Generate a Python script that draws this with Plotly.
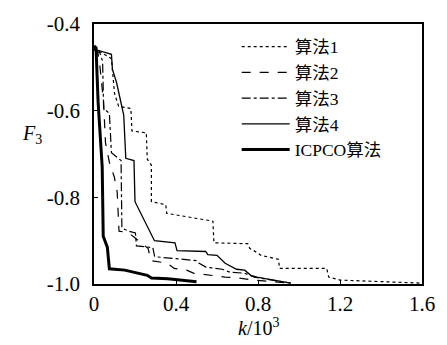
import plotly.graph_objects as go

# Algorithm 1 (dotted)
alg1_x = [0, 0.015, 0.085, 0.1, 0.12, 0.18, 0.185, 0.255, 0.26, 0.28, 0.28, 0.35, 0.355, 0.58, 0.585,
          0.75, 0.76, 0.78, 0.815, 0.9, 0.905, 1.135, 1.145, 1.2, 1.6]
alg1_y = [-0.455, -0.46, -0.48, -0.56, -0.59, -0.595, -0.647, -0.651, -0.712, -0.726, -0.81, -0.817, -0.837,
          -0.855, -0.905, -0.907, -0.918, -0.923, -0.934, -0.943, -0.964, -0.964, -0.984, -0.991, -0.998]

# Algorithm 2 (dashed)
alg2_x = [0, 0.019, 0.028, 0.047, 0.056, 0.075, 0.099, 0.113, 0.122, 0.169, 0.193, 0.216, 0.264, 0.278,
          0.358, 0.391, 0.452, 0.485, 0.56, 0.64, 0.701, 0.781, 0.96]
alg2_y = [-0.459, -0.466, -0.493, -0.583, -0.674, -0.719, -0.753, -0.787, -0.878, -0.882, -0.891, -0.9,
          -0.918, -0.946, -0.952, -0.964, -0.968, -0.975, -0.98, -0.984, -0.986, -0.991, -0.998]

# Algorithm 3 (dash-dot)
alg3_x = [0, 0.028, 0.042, 0.047, 0.075, 0.085, 0.132, 0.136, 0.169, 0.202, 0.207, 0.287, 0.296, 0.499,
          0.513, 0.546, 0.626, 0.664, 0.734, 0.781, 0.96]
alg3_y = [-0.459, -0.466, -0.486, -0.595, -0.606, -0.697, -0.715, -0.871, -0.878, -0.882, -0.912, -0.916,
          -0.937, -0.946, -0.952, -0.961, -0.966, -0.973, -0.975, -0.984, -0.998]

# Algorithm 4 (thin solid)
alg4_x = [0, 0.015, 0.085, 0.09, 0.11, 0.135, 0.145, 0.155, 0.195, 0.2, 0.295, 0.395, 0.405, 0.545, 0.555,
          0.6, 0.64, 0.695, 0.735, 0.765, 0.795, 0.96]
alg4_y = [-0.455, -0.46, -0.47, -0.505, -0.535, -0.59, -0.61, -0.71, -0.715, -0.81, -0.9, -0.905, -0.923,
          -0.925, -0.932, -0.934, -0.952, -0.966, -0.968, -0.98, -0.984, -0.998]

# ICPCO (thick solid)
icpco_x = [0, 0.01, 0.02, 0.03, 0.04, 0.045, 0.065, 0.075, 0.15, 0.26, 0.28, 0.36, 0.5]
icpco_y = [-0.45, -0.455, -0.58, -0.66, -0.73, -0.89, -0.915, -0.965, -0.968, -0.98, -0.986, -0.988, -0.995]

names = ["算法1", "算法2", "算法3", "算法4", "ICPCO算法"]
xs = [alg1_x, alg2_x, alg3_x, alg4_x, icpco_x]
ys = [alg1_y, alg2_y, alg3_y, alg4_y, icpco_y]
dashes = ["dot", "dash", "dashdot", "solid", "solid"]
widths = [1.2, 1.2, 1.2, 1.3, 3]

fig = go.Figure()
for n, x, y, d, w in zip(names, xs, ys, dashes, widths):
    fig.add_trace(go.Scatter(x=x, y=y, mode="lines", name=n,
                             line=dict(color="black", dash=d, width=w)))

font_fam = "'Liberation Serif', 'Times New Roman', 'Noto Sans CJK SC', serif"
fig.update_layout(
    width=447, height=345,
    margin=dict(l=94, r=12, t=19, b=61),
    paper_bgcolor="white", plot_bgcolor="white",
    font=dict(family=font_fam, size=21, color="black"),
    showlegend=True,
    legend=dict(x=0.435, y=0.982, xanchor="left", yanchor="top",
                bgcolor="rgba(0,0,0,0)", borderwidth=0,
                font=dict(family=font_fam, size=17.5), itemwidth=48,
                tracegroupgap=0),
    xaxis=dict(range=[0, 1.6], tickvals=[0, 0.4, 0.8, 1.2, 1.6],
               ticktext=["0", "0.4", "0.8", "1.2", "1.6"],
               showline=True, mirror=True, linecolor="black", linewidth=1.5,
               ticks="inside", ticklen=4, tickcolor="black", showgrid=False, zeroline=False,
               ticklabelstandoff=0),
    yaxis=dict(range=[-1.0, -0.4], tickvals=[-1.0, -0.8, -0.6, -0.4],
               ticktext=["-1.0", "-0.8", "-0.6", "-0.4"],
               showline=True, mirror=True, linecolor="black", linewidth=1.5,
               ticks="inside", ticklen=4, tickcolor="black", showgrid=False, zeroline=False,
               ticklabelstandoff=8),
)
fig.add_annotation(text="<i>F</i><sub>3</sub>", xref="paper", yref="paper",
                   x=-0.225, y=0.575, showarrow=False, font=dict(size=20, family=font_fam))
fig.add_annotation(text="<i>k</i>/10<sup>3</sup>", xref="paper", yref="paper",
                   x=0.5, y=-0.165, yanchor="middle", showarrow=False, font=dict(size=20, family=font_fam))

fig.write_html("out.html")
